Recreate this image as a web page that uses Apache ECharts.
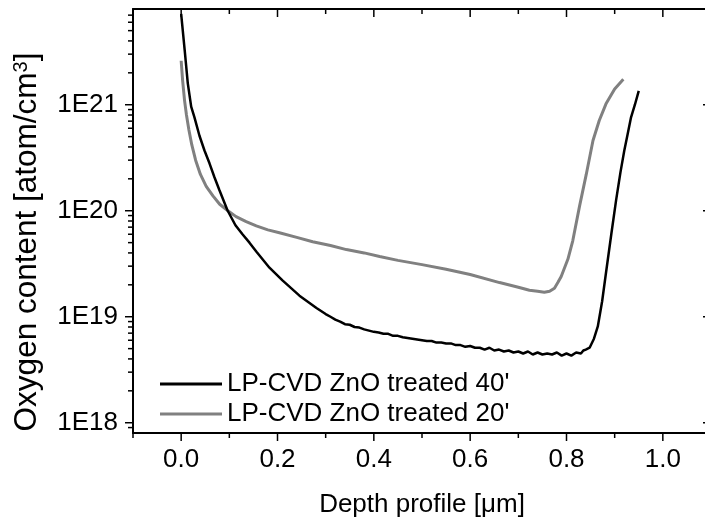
<!DOCTYPE html>
<html>
<head>
<meta charset="utf-8">
<script src="https://cdn.jsdelivr.net/npm/echarts@6/dist/echarts.min.js"></script>
<style>
  html, body { margin: 0; padding: 0; background: #fff; }
  #chart { width: 705px; height: 523px; }
</style>
</head>
<body>
<div id="chart"></div>
<script>
// depth [um] / oxygen content [atom/cm3]
let blackX = [0.000, 0.002, 0.0075, 0.0137, 0.0208, 0.0276, 0.038, 0.0484, 0.0588, 0.0691, 0.0795, 0.0961,
    0.1127, 0.1273, 0.1418, 0.1563, 0.1833, 0.2103, 0.2456, 0.2809, 0.30, 0.31, 0.32, 0.33, 0.34, 0.35,
    0.36, 0.37, 0.38, 0.39, 0.40, 0.41, 0.42, 0.43, 0.44, 0.45, 0.46, 0.47, 0.48, 0.49, 0.50, 0.51, 0.52,
    0.53, 0.54, 0.55, 0.56, 0.57, 0.58, 0.59, 0.60, 0.61, 0.62, 0.63, 0.64, 0.65, 0.66, 0.67, 0.68, 0.69,
    0.70, 0.71, 0.72, 0.73, 0.74, 0.75, 0.76, 0.77, 0.78, 0.79, 0.80, 0.81, 0.82, 0.83, 0.835, 0.84,
    0.848, 0.857, 0.865, 0.874, 0.882, 0.893, 0.903, 0.912, 0.920, 0.927, 0.934, 0.942, 0.950];
let blackY = [7.2e21, 5.8e21, 3.2e21, 1.6e21, 9.6e20, 7.6e20, 5.1e20, 3.7e20, 2.8e20, 2.07e20, 1.56e20, 1.01e20,
    7.3e19, 6.0e19, 5.0e19, 4.1e19, 2.9e19, 2.2e19, 1.58e19, 1.21e19, 1.06e19, 1.0e19, 9.4e18, 9.0e18, 8.5e18, 8.4e18,
    8.0e18, 7.9e18, 7.6e18, 7.4e18, 7.2e18, 7.1e18, 6.9e18, 6.9e18, 6.6e18, 6.6e18, 6.4e18, 6.3e18, 6.2e18, 6.1e18,
    6.0e18, 5.9e18, 5.9e18, 5.7e18, 5.7e18, 5.6e18, 5.6e18, 5.4e18, 5.4e18, 5.2e18, 5.3e18, 5.1e18, 5.1e18, 4.9e18,
    5.1e18, 4.8e18, 4.9e18, 4.7e18, 4.8e18, 4.6e18, 4.7e18, 4.5e18, 4.7e18, 4.4e18, 4.6e18, 4.4e18, 4.5e18, 4.4e18,
    4.6e18, 4.3e18, 4.5e18, 4.3e18, 4.6e18, 4.5e18, 4.8e18, 4.9e18,
    5.1e18, 6.2e18, 8.1e18, 1.4e19, 2.6e19, 6.0e19, 1.26e20, 2.3e20, 3.7e20, 5.3e20, 7.6e20, 1.0e21, 1.35e21];

let grayX = [0.000, 0.003, 0.007, 0.011, 0.016, 0.022, 0.030, 0.040, 0.052, 0.066, 0.080, 0.097, 0.114, 0.135,
    0.156, 0.180, 0.204, 0.240, 0.273, 0.310, 0.343, 0.380, 0.412, 0.450, 0.500, 0.550, 0.600, 0.661, 0.700,
    0.723, 0.740, 0.754, 0.765, 0.775, 0.782, 0.789, 0.796, 0.803, 0.813, 0.827, 0.841, 0.855, 0.868, 0.882,
    0.900, 0.918];
let grayY = [2.6e21, 1.7e21, 1.1e21, 8.0e20, 5.8e20, 4.2e20, 3.0e20, 2.2e20, 1.7e20, 1.38e20, 1.15e20, 1.0e20,
    8.8e19, 7.9e19, 7.2e19, 6.6e19, 6.2e19, 5.6e19, 5.1e19, 4.7e19, 4.3e19, 4.0e19, 3.7e19, 3.4e19, 3.1e19,
    2.8e19, 2.5e19, 2.1e19, 1.9e19, 1.78e19, 1.74e19, 1.70e19, 1.74e19, 1.86e19, 2.1e19, 2.4e19, 2.9e19, 3.5e19,
    5.2e19, 1.1e20, 2.2e20, 4.6e20, 7.1e20, 1.02e21, 1.41e21, 1.74e21];

let seriesNames = ["LP-CVD ZnO treated 40'", "LP-CVD ZnO treated 20'"];

let xMin = -0.1, xMax = 1.1;
let xMajor = [0, 0.2, 0.4, 0.6, 0.8, 1.0];
let xMinor = [-0.1, 0.1, 0.3, 0.5, 0.7, 0.9];
let yMin = 8e17, yMax = 8e21;
let yMajor = [1e18, 1e19, 1e20, 1e21];
let yMajorLabels = ['1E18', '1E19', '1E20', '1E21'];
let yMinor = [9e17, 2e18, 3e18, 4e18, 5e18, 6e18, 7e18, 8e18, 9e18, 2e19, 3e19, 4e19, 5e19, 6e19, 7e19, 8e19, 9e19,
    2e20, 3e20, 4e20, 5e20, 6e20, 7e20, 8e20, 9e20, 2e21, 3e21, 4e21, 5e21, 6e21, 7e21];

// the y axis is drawn on log10 of the values
function zipLog(xs, ys) {
    let out = [];
    for (let i = 0; i < xs.length; i++) {
        out.push([xs[i], Math.log10(ys[i])]);
    }
    return out;
}

// tick marks: [x, y(log), side 0=left 1=right 2=bottom 3=top, length]
function tickData() {
    let out = [];
    let lo = Math.log10(yMin), hi = Math.log10(yMax);
    yMajor.forEach(v => { out.push([xMin, Math.log10(v), 0, 8]); out.push([xMax, Math.log10(v), 1, 8]); });
    yMinor.forEach(v => { out.push([xMin, Math.log10(v), 0, 5]); out.push([xMax, Math.log10(v), 1, 5]); });
    xMajor.forEach(v => { out.push([v, lo, 2, 8]); out.push([v, hi, 3, 8]); });
    xMinor.forEach(v => { out.push([v, lo, 2, 5]); out.push([v, hi, 3, 5]); });
    return out;
}

function renderTick(params, api) {
    let p = api.coord([api.value(0), api.value(1)]);
    let side = api.value(2), len = api.value(3);
    let dx = 0, dy = 0;
    if (side === 0 || side === 1) dx = -len; // left: outward, right: inward
    else dy = len;                            // bottom: outward, top: inward
    return {
        type: 'line',
        shape: { x1: p[0], y1: p[1], x2: p[0] + dx, y2: p[1] + dy },
        style: { stroke: '#000', lineWidth: 1.5 },
        silent: true
    };
}

let font = 'Liberation Sans, Arial, sans-serif';
let axisLine = { show: true, onZero: false, lineStyle: { color: '#000', width: 2 } };

let myChart = echarts.init(document.getElementById('chart'));

let option = {
    animation: false,
    backgroundColor: '#fff',
    grid: {
        left: 133, top: 9, right: -6, bottom: 90,
        containLabel: false,
        outerBoundsMode: 'none'
    },
    legend: {
        data: seriesNames.map(n => ({ name: n, icon: 'rect' })),
        orient: 'vertical',
        left: 155, top: 366,
        itemWidth: 62, itemHeight: 3, itemGap: 4,
        textStyle: { fontSize: 26, fontFamily: font, color: '#000', lineHeight: 26 }
    },
    xAxis: [
        {
            type: 'value', position: 'bottom', min: xMin, max: xMax, interval: 0.1,
            axisLine: axisLine, splitLine: { show: false }, axisTick: { show: false },
            axisLabel: {
                margin: 14, fontSize: 26, fontFamily: font, color: '#000',
                formatter: v => (xMajor.some(m => Math.abs(m - v) < 1e-6) ? v.toFixed(1) : '')
            },
            name: 'Depth profile [\u03bcm]', nameLocation: 'middle', nameGap: 59,
            nameTextStyle: { fontSize: 26, fontFamily: font, color: '#000' }
        },
        {
            type: 'value', position: 'top', min: xMin, max: xMax,
            axisLine: axisLine, splitLine: { show: false }, axisTick: { show: false }, axisLabel: { show: false }
        }
    ],
    yAxis: [
        {
            type: 'value', position: 'left', min: Math.log10(yMin), max: Math.log10(yMax),
            axisLine: axisLine, splitLine: { show: false }, axisTick: { show: false },
            axisLabel: {
                margin: 15, fontSize: 26, fontFamily: font, color: '#000',
                formatter: v => {
                    let i = yMajor.findIndex(m => Math.abs(Math.log10(m) - v) < 0.01);
                    return i < 0 ? '' : yMajorLabels[i];
                }
            },
            name: 'Oxygen content [atom/cm{sup|3}]', nameLocation: 'middle', nameGap: 90,
            nameTextStyle: {
                fontSize: 31.5, fontFamily: font, color: '#000',
                padding: [0, 42, 0, 0],
                rich: { sup: { fontSize: 20, fontFamily: font, color: '#000', verticalAlign: 'top', lineHeight: 31 } }
            }
        },
        {
            type: 'value', position: 'right', min: Math.log10(yMin), max: Math.log10(yMax),
            axisLine: axisLine, splitLine: { show: false }, axisTick: { show: false }, axisLabel: { show: false }
        }
    ],
    series: [
        {
            name: seriesNames[1], type: 'line', data: zipLog(grayX, grayY),
            symbol: 'none', smooth: false,
            lineStyle: { color: '#808080', width: 3 }, itemStyle: { color: '#808080' }
        },
        {
            name: seriesNames[0], type: 'line', data: zipLog(blackX, blackY),
            symbol: 'none', smooth: false,
            lineStyle: { color: '#000', width: 2.5 }, itemStyle: { color: '#000' }
        },
        {
            name: 'ticks', type: 'custom', data: tickData(), renderItem: renderTick,
            clip: false, silent: true, z: 5
        }
    ]
};

myChart.setOption(option);
</script>
</body>
</html>
